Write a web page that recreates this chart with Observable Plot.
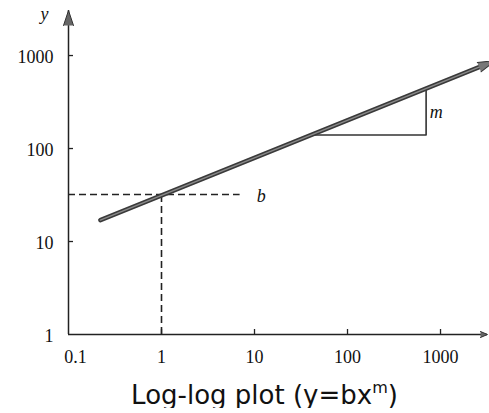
<!DOCTYPE html>
<html>
<head>
<meta charset="utf-8">
<script src="https://cdn.jsdelivr.net/npm/d3@7"></script>
<script src="https://cdn.jsdelivr.net/npm/@observablehq/plot@0.6"></script>
<style>
  body { margin: 0; background: white; }
  #cap { width: 489px; text-align: center; font-family: "DejaVu Sans", "Noto Sans", sans-serif; font-size: 26px; line-height: 1; margin-top: 14px; color: #111; padding-left: 40px; box-sizing: border-box; }
  #cap sup { font-size: 16px; vertical-align: 11px; line-height: 0; }
</style>
</head>
<body>
<div id="chart"></div>
<div id="cap">Log-log plot (y=bx<sup>m</sup>)</div>
<script>
const xTicks = [0.1, 1, 10, 100, 1000];
const yTicks = [1, 10, 100, 1000];
const xDomain = [0.1, 3200];
const yDomain = [1, 3050];
const mainLine = [{x: 0.22, y: 17}, {x: 2600, y: 750}];
const bValue = 32;
const bAtX = 1;
const bDashEndX = 7;
const slopeTriangle = [{x: 40, y: 140}, {x: 700, y: 140}, {x: 700, y: 440}];
const labelB = [{x: 11, y: 32, t: "b"}];
const labelM = [{x: 900, y: 244, t: "m"}];

const serif = "'Liberation Serif', 'DejaVu Serif', serif";

const chart = Plot.plot({
  width: 489,
  height: 368,
  marginLeft: 68,
  marginRight: 2,
  marginTop: 10,
  marginBottom: 34,
  style: {background: "white", overflow: "visible"},
  x: {type: "log", domain: xDomain, axis: null},
  y: {type: "log", domain: yDomain, axis: null},
  marks: [
    // axes lines
    Plot.ruleY([yDomain[0]], {x1: xDomain[0], x2: xDomain[1], stroke: "#222", strokeWidth: 1.5}),
    Plot.ruleX([xDomain[0]], {y1: yDomain[0], y2: yDomain[1], stroke: "#222", strokeWidth: 1.5}),
    // axis ticks (inside)
    Plot.ruleX(xTicks.slice(1), {x: d => d, y1: yDomain[0], y2: yDomain[0], insetTop: -5, stroke: "#222", strokeWidth: 1.3}),
    Plot.ruleY(yTicks.slice(1), {y: d => d, x1: xDomain[0], x2: xDomain[0], insetRight: -5, stroke: "#222", strokeWidth: 1.3}),
    // axis arrowheads
    Plot.vector([{x: xDomain[0], y: yDomain[1]}], {x: "x", y: "y", length: 15, r: 5, rotate: 0, anchor: "end", shape: "spike", fill: "#666", stroke: "#333", strokeWidth: 1}),
    Plot.vector([{x: xDomain[1], y: yDomain[0]}], {x: "x", y: "y", length: 7, r: 3, rotate: 90, anchor: "end", shape: "spike", fill: "#666", stroke: "#333", strokeWidth: 1}),
    // tick labels
    Plot.text(xTicks.slice(1), {x: d => d, y: yDomain[0], text: d => String(d), dy: 23, fontFamily: serif, fontSize: 18, fill: "#111"}),
    Plot.text(xTicks.slice(0, 1), {x: d => d, y: yDomain[0], text: d => String(d), dy: 23, dx: 7, fontFamily: serif, fontSize: 18, fill: "#111"}),
    Plot.text(yTicks, {x: xDomain[0], y: d => d, text: d => String(d), dx: -15, dy: 2, textAnchor: "end", fontFamily: serif, fontSize: 18, fill: "#111"}),
    Plot.text(["y"], {x: xDomain[0], y: yDomain[1], text: d => d, dx: -24, dy: 4, fontFamily: serif, fontStyle: "italic", fontSize: 18, fill: "#111"}),
    // dashed guides
    Plot.ruleY([bValue], {y: d => d, x1: xDomain[0], x2: bDashEndX, stroke: "#222", strokeWidth: 1.6, strokeDasharray: "7,4"}),
    Plot.ruleX([bAtX], {x: d => d, y1: yDomain[0], y2: bValue, stroke: "#222", strokeWidth: 1.6, strokeDasharray: "7,4"}),
    // slope triangle
    Plot.line(slopeTriangle, {x: "x", y: "y", stroke: "#333", strokeWidth: 1.6}),
    // main line
    Plot.line(mainLine, {x: "x", y: "y", stroke: "#3a3a3a", strokeWidth: 4.5}),
    Plot.line(mainLine, {x: "x", y: "y", stroke: "#8a8a8a", strokeWidth: 1.5}),
    Plot.vector(mainLine.slice(1), {x: "x", y: "y", length: 18, r: 5, rotate: 68.2, anchor: "start", shape: "spike", fill: "#777", stroke: "#333", strokeWidth: 1}),
    // labels
    Plot.text(labelB, {x: "x", y: "y", text: "t", dx: 3, dy: 2, fontFamily: serif, fontStyle: "italic", fontSize: 18, fill: "#111"}),
    Plot.text(labelM, {x: "x", y: "y", text: "t", fontFamily: serif, fontStyle: "italic", fontSize: 18, fill: "#111"})
  ]
});
document.getElementById("chart").appendChild(chart);
</script>
</body>
</html>
